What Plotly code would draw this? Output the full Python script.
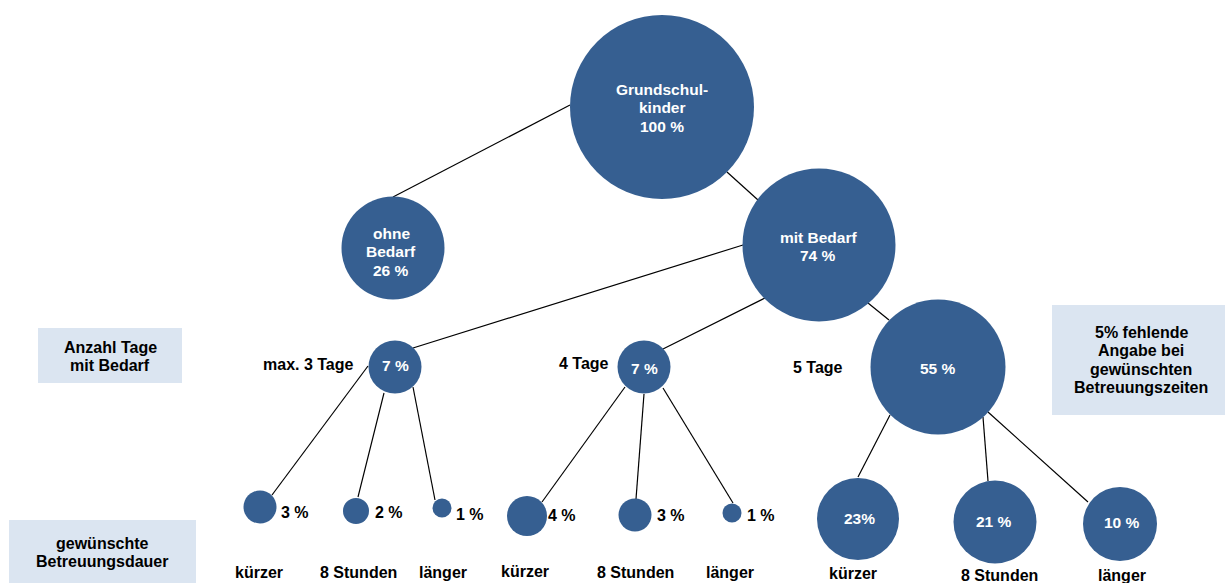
import plotly.graph_objects as go

# ---------------- data ----------------
node_names = ["Grundschul-<br>kinder", "ohne<br>Bedarf", "mit Bedarf",
              "max. 3 Tage", "4 Tage", "5 Tage",
              "kürzer", "8 Stunden", "länger",
              "kürzer", "8 Stunden", "länger",
              "kürzer", "8 Stunden", "länger"]
node_values = [100, 26, 74, 7, 7, 55, 3, 2, 1, 4, 3, 1, 23, 21, 10]
value_labels = ["100 %", "26 %", "74 %", "7 %", "7 %", "55 %",
                "3 %", "2 %", "1 %", "4 %", "3 %", "1 %", "23%", "21 %", "10 %"]
parents = [None, 0, 0, 2, 2, 2, 3, 3, 3, 4, 4, 4, 5, 5, 5]
row_titles = ["Anzahl Tage<br>mit Bedarf", "gewünschte<br>Betreuungsdauer"]
note_text = "5% fehlende<br>Angabe bei<br>gewünschten<br>Betreuungszeiten"

# ---------------- layout (pixel grid) ----------------
W, H = 1225, 583
node_cx = [662, 393, 819, 395, 644, 938, 260, 356, 442, 527, 635, 732, 858, 995, 1120]
node_cy = [107, 248, 245, 367, 367, 367, 507, 511, 508, 516, 515, 513, 519, 522, 524]
node_d = [184, 103, 153, 53, 53, 135, 33, 26, 19, 40, 33, 19, 82, 83, 74]

# connector end points (child index -> (x0, y0, x1, y1))
connectors = {
    1: (570, 105, 393, 197),
    2: (727, 172, 758, 200),
    3: (743, 245, 413, 348),
    4: (765, 298, 663, 349),
    5: (868, 303, 889, 320),
    6: (368, 366, 272, 495),
    7: (384, 393, 358, 497),
    8: (413, 387, 435, 500),
    9: (625, 387, 542, 502),
    10: (644, 394, 636, 499),
    11: (663, 388, 733, 503),
    12: (890, 415, 858, 477),
    13: (983, 417, 988, 481),
    14: (988, 412, 1088, 502),
}

# label positions
name_pos = [(662, 89), (391, 233), (818, 237), (308, 364), (584, 363), (818, 367),
            (259, 572), (358, 572), (443, 572), (525, 571), (635, 572), (730, 572),
            (853, 573), (999, 575), (1122, 575)]
value_pos = [(662, 125), (391, 271), (818, 256), (395, 365), (644, 368), (938, 368),
             (295, 512), (389, 512), (470, 514), (562, 515), (671, 515), (761, 515),
             (859, 518), (994, 521), (1122, 522)]
white_value = [True] * 6 + [False] * 6 + [True] * 3

row_boxes = [(38, 328, 182, 383), (9, 520, 196, 590)]
row_text_pos = [(110, 347), (102, 543)]
note_box = (1052, 305, 1230, 415)
note_text_pos = (1141, 332)

LINE_H = 18.5
FONT = "Liberation Sans, Arial, sans-serif"
CIRCLE = "#365F91"
BOX = "#DBE5F1"
WHITE_SIZE = 15.5
BLACK_SIZE = 16

fig = go.Figure()

# circles
fig.add_trace(go.Scatter(
    x=node_cx, y=node_cy, mode="markers",
    marker=dict(size=node_d, color=CIRCLE, line=dict(width=0), opacity=1),
    text=[f"{n.replace('<br>', ' ')}: {v} %" for n, v in zip(node_names, node_values)],
    hoverinfo="text", showlegend=False,
))

shapes = []
for child, p in enumerate(parents):
    if p is None:
        continue
    x0, y0, x1, y1 = connectors[child]
    shapes.append(dict(type="line", x0=x0, y0=y0, x1=x1, y1=y1, xref="x", yref="y",
                       line=dict(color="black", width=1.2), layer="below"))
for (x0, y0, x1, y1) in row_boxes + [note_box]:
    shapes.append(dict(type="rect", x0=x0, y0=y0, x1=x1, y1=y1, xref="x", yref="y",
                       fillcolor=BOX, line=dict(width=0), layer="below"))

annotations = []


def add_text(text, x, y, color):
    size = WHITE_SIZE if color == "white" else BLACK_SIZE
    for i, line in enumerate(text.split("<br>")):
        annotations.append(dict(
            x=x, y=y + i * LINE_H, xref="x", yref="y", text=line, showarrow=False,
            xanchor="center", yanchor="middle",
            font=dict(family=FONT, size=size, color=color, weight="bold")))


for i in range(len(node_names)):
    if i < 3:
        lines = node_names[i] + "<br>" + value_labels[i]
        add_text(lines, name_pos[i][0], name_pos[i][1], "white")
    else:
        add_text(node_names[i], name_pos[i][0], name_pos[i][1], "black")
        add_text(value_labels[i], value_pos[i][0], value_pos[i][1],
                 "white" if white_value[i] else "black")

for t, (x, y) in zip(row_titles, row_text_pos):
    add_text(t, x, y, "black")
add_text(note_text, note_text_pos[0], note_text_pos[1], "black")

fig.update_layout(
    width=W, height=H, margin=dict(l=0, r=0, t=0, b=0),
    paper_bgcolor="white", plot_bgcolor="white",
    xaxis=dict(range=[0, W], visible=False, fixedrange=True),
    yaxis=dict(range=[H, 0], visible=False, fixedrange=True),
    shapes=shapes, annotations=annotations, showlegend=False,
)

fig.write_html(
    "out.html",
    config={"displayModeBar": False},
    post_script="document.body.style.margin='0';document.body.style.overflow='hidden';",
)
